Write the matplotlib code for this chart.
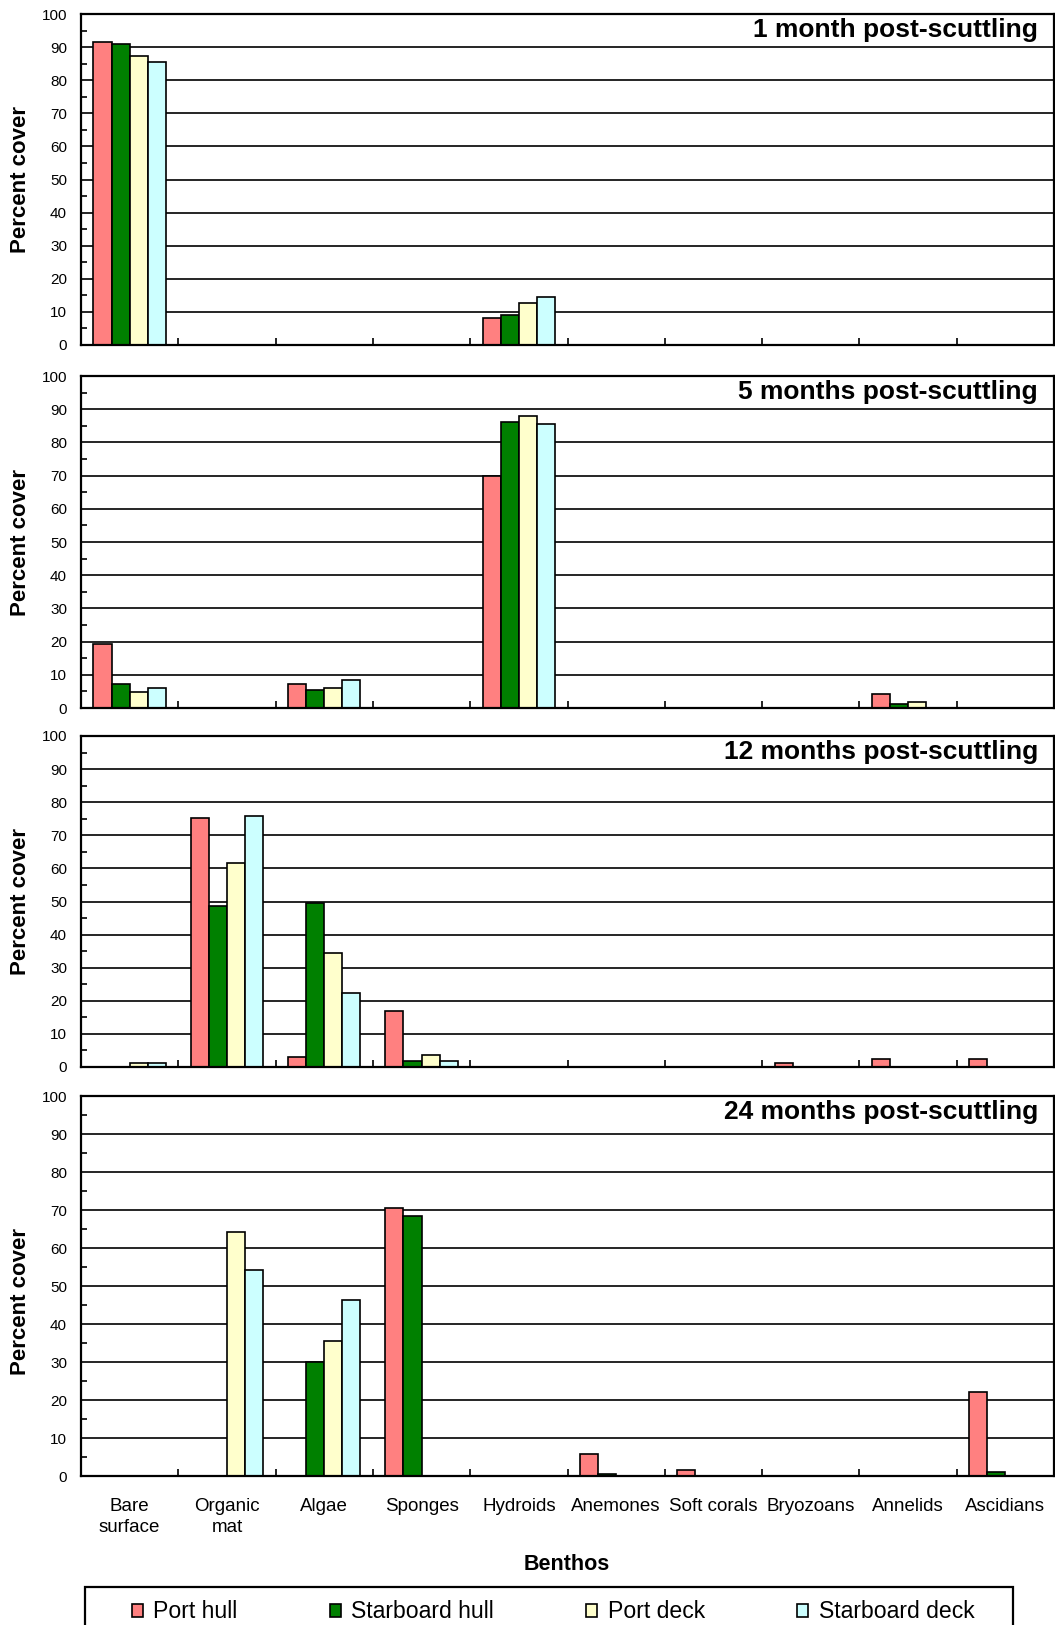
import matplotlib
matplotlib.use("Agg")
import matplotlib.pyplot as plt
from matplotlib.patches import Rectangle
import numpy as np

plt.rcParams['font.family'] = ['Liberation Sans', 'DejaVu Sans']

categories = ["Bare\nsurface", "Organic\nmat", "Algae", "Sponges", "Hydroids",
              "Anemones", "Soft corals", "Bryozoans", "Annelids", "Ascidians"]
series_names = ["Port hull", "Starboard hull", "Port deck", "Starboard deck"]
colors = ["#FF8080", "#008000", "#FFFFCC", "#CCFFFF"]
panel_titles = ["1 month post-scuttling", "5 months post-scuttling",
                "12 months post-scuttling", "24 months post-scuttling"]

# values per panel: rows = series (Port hull, Starboard hull, Port deck, Starboard deck)
month1 = [
    [91.5, 0, 0, 0, 8.2, 0, 0, 0, 0, 0],
    [91.0, 0, 0, 0, 9.0, 0, 0, 0, 0, 0],
    [87.2, 0, 0, 0, 12.6, 0, 0, 0, 0, 0],
    [85.5, 0, 0, 0, 14.4, 0, 0, 0, 0, 0],
]
month5 = [
    [19.3, 0, 7.2, 0, 69.8, 0, 0, 0, 4.2, 0],
    [7.2, 0, 5.4, 0, 86.2, 0, 0, 0, 1.2, 0],
    [4.8, 0, 6.0, 0, 87.9, 0, 0, 0, 1.7, 0],
    [6.0, 0, 8.4, 0, 85.5, 0, 0, 0, 0, 0],
]
month12 = [
    [0, 75.2, 3.0, 16.8, 0, 0, 0, 1.1, 2.4, 2.4],
    [0, 48.7, 49.4, 1.8, 0, 0, 0, 0, 0, 0],
    [1.2, 61.5, 34.3, 3.5, 0, 0, 0, 0, 0, 0],
    [1.2, 75.9, 22.3, 1.8, 0, 0, 0, 0, 0, 0],
]
month24 = [
    [0, 0, 0, 70.5, 0, 5.7, 1.5, 0, 0, 22.1],
    [0, 0, 30.0, 68.4, 0, 0.5, 0, 0, 0, 1.0],
    [0, 64.2, 35.5, 0, 0, 0, 0, 0, 0, 0],
    [0, 54.2, 46.2, 0, 0, 0, 0, 0, 0, 0],
]
panels = [month1, month5, month12, month24]

W, H = 1055, 1625
fig = plt.figure(figsize=(W / 100, H / 100), dpi=100)

left = 81 / W
width = (1054 - 81) / W
boxes = [(14, 345), (376, 708), (736, 1067), (1096, 1476)]

ncat = len(categories)
centers = np.arange(ncat) + 0.5
bw = 0.186

for p, (top, bot) in enumerate(boxes):
    ax = fig.add_axes([left, 1 - bot / H, width, (bot - top) / H])
    data = panels[p]
    for s in range(4):
        xs = centers + (s - 1.5) * bw
        ax.bar(xs, data[s], width=bw, color=colors[s], edgecolor='black',
               linewidth=1.2, zorder=3)
    ax.set_xlim(0, ncat)
    ax.set_ylim(0, 100)
    ax.set_yticks(np.arange(0, 101, 10))
    ax.set_yticks(np.arange(5, 100, 10), minor=True)
    ax.grid(axis='y', which='major', color='black', linewidth=1.2, zorder=1)
    ax.tick_params(axis='y', which='major', length=0, pad=10, labelsize=11)
    ax.tick_params(axis='y', which='minor', direction='in', length=4, width=1.2)
    ax.set_xticks(np.arange(1, ncat))
    ax.tick_params(axis='x', which='major', direction='in', length=5, width=1.2,
                   labelbottom=False)
    if p == 3:
        ax.set_xticks(centers, minor=True)
        ax.set_xticklabels(categories, minor=True, fontsize=13.5, linespacing=1.3)
        ax.tick_params(axis='x', which='minor', length=0, pad=16)
    for sp in ax.spines.values():
        sp.set_linewidth(1.6)
        sp.set_zorder(4)
    ax.set_ylabel("Percent cover", fontsize=16, fontweight='bold')
    ylab_y = 0.5 if p < 3 else 0.46
    ax.yaxis.set_label_coords((31 - 81) / (1054 - 81), ylab_y)
    ax.annotate(panel_titles[p], xy=(1, 1), xycoords='axes fraction',
                xytext=(-16, -16), textcoords='offset pixels',
                ha='right', va='center', fontsize=19, fontweight='bold')

fig.text(567 / W, 1 - 1564 / H, "Benthos", ha='center', va='center',
         fontsize=15.5, fontweight='bold')

# legend frame (extends past the bottom edge, as in the reference)
fig.patches.append(Rectangle((85 / W, 1 - 1660 / H), (1013 - 85) / W, (1660 - 1587) / H,
                             transform=fig.transFigure, facecolor='white',
                             edgecolor='black', linewidth=1.6, zorder=1))

handles = [Rectangle((0, 0), 1, 1, facecolor=c, edgecolor='black', linewidth=1.2)
           for c in colors]
leg = fig.legend(handles, series_names, loc='center left',
                 bbox_to_anchor=(132 / W, 1 - 1612 / H),
                 ncol=4, frameon=False, fontsize=16.6, handlelength=0.48,
                 handleheight=0.48, handletextpad=0.45, borderpad=0,
                 borderaxespad=0, columnspacing=4.0)
leg.set_zorder(2)

fig.savefig("out.png", dpi=100)
